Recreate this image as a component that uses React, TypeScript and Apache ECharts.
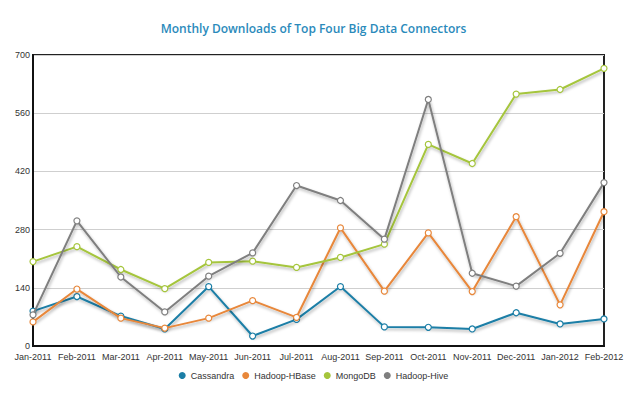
import React, { useEffect, useRef } from "react";
import * as echarts from "echarts";

const categories = [
  "Jan-2011", "Feb-2011", "Mar-2011", "Apr-2011", "May-2011", "Jun-2011", "Jul-2011",
  "Aug-2011", "Sep-2011", "Oct-2011", "Nov-2011", "Dec-2011", "Jan-2012", "Feb-2012",
];
const cassandra = [84, 119, 72, 41, 143, 24, 64, 143, 46, 45, 41, 80, 53, 65];
const hbase = [58, 137, 67, 43, 67, 109, 69, 284, 132, 272, 131, 311, 99, 323];
const mongodb = [203, 239, 184, 138, 201, 204, 189, 213, 245, 485, 439, 606, 617, 668];
const hive = [75, 301, 166, 82, 168, 224, 386, 350, 257, 593, 175, 144, 223, 393];
const seriesNames = ["Cassandra", "Hadoop-HBase", "MongoDB", "Hadoop-Hive"];
const colors = ["#1b7ea6", "#e8873a", "#a5c53c", "#7f7f7f"];
const yTicks = { min: 0, max: 700, interval: 140 };

export default function App() {
  const ref = useRef<HTMLDivElement>(null);
  useEffect(() => {
    const chart = echarts.init(ref.current!, null, { renderer: "svg" });
    const data = [cassandra, hbase, mongodb, hive];
    chart.setOption({
      animation: false,
      backgroundColor: "#ffffff",
      title: {
        text: "Monthly Downloads of Top Four Big Data Connectors",
        left: "center",
        top: 17,
        textStyle: {
          fontFamily: "Open Sans",
          fontSize: 12,
          fontWeight: 600,
          color: "#2a8abb",
        },
      },
      legend: {
        bottom: 11,
        left: "center",
        icon: "circle",
        itemWidth: 7,
        itemHeight: 7,
        itemGap: 8,
        textStyle: { fontFamily: "Liberation Sans", fontSize: 9, color: "#333", padding: [3, 0, 0, 0] },
        data: seriesNames.map((n, i) => ({
          name: n,
          itemStyle: { color: colors[i], borderWidth: 0 },
        })),
      },
      grid: { left: 33, right: 23, top: 55, bottom: 50, show: true, borderColor: "#222", borderWidth: 2 },
      xAxis: {
        type: "category",
        data: categories,
        boundaryGap: false,
        axisLine: { lineStyle: { color: "#111", width: 2 } },
        axisTick: { show: false },
        axisLabel: { fontFamily: "Liberation Sans", fontSize: 9, color: "#333", margin: 6, interval: 0 },
      },
      yAxis: {
        type: "value",
        min: yTicks.min,
        max: yTicks.max,
        interval: yTicks.interval,
        axisLine: { show: true, lineStyle: { color: "#111", width: 2 } },
        axisTick: { show: false },
        axisLabel: { fontFamily: "Liberation Sans", fontSize: 9, color: "#333", margin: 3 },
        splitLine: { lineStyle: { color: "#cfcfcf", width: 1 } },
      },
      series: seriesNames.map((name, i) => ({
        name,
        type: "line",
        data: data[i],
        color: colors[i],
        symbol: "circle",
        symbolSize: 6,
        showSymbol: true,
        lineStyle: {
          width: 2,
          color: colors[i],
          shadowColor: "rgba(0,0,0,0.3)",
          shadowBlur: 3,
          shadowOffsetX: 1,
          shadowOffsetY: 2,
        },
        itemStyle: { color: "#ffffff", borderColor: colors[i], borderWidth: 1.2 },
        z: 2 + i,
      })),
    });
    return () => chart.dispose();
  }, []);
  return (
    <div
      ref={ref}
      style={{ position: "fixed", left: 0, top: 0, width: 627, height: 396 }}
    />
  );
}
